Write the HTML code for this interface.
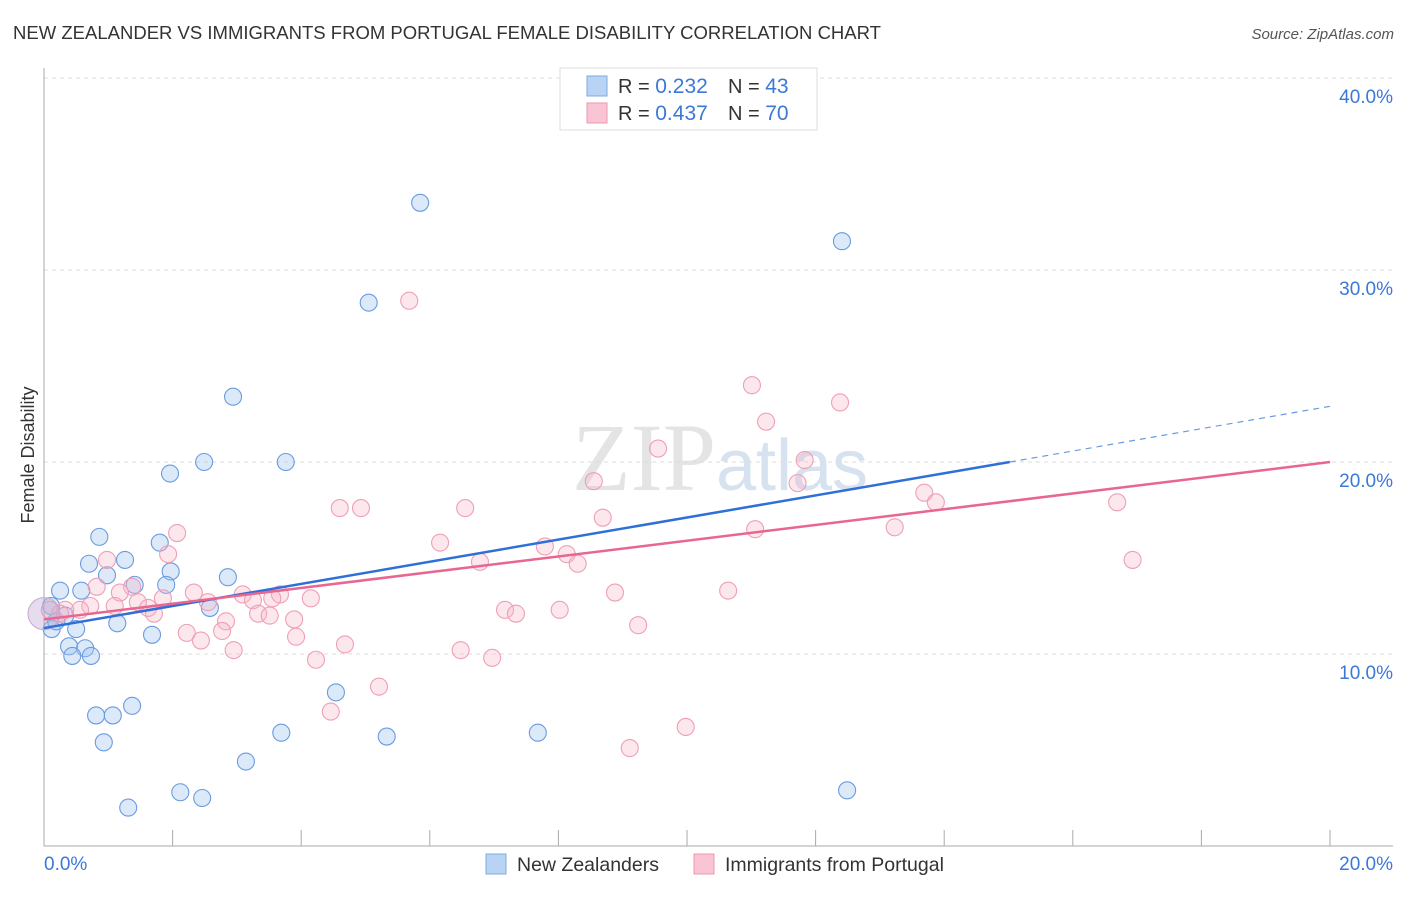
<!DOCTYPE html>
<html><head><meta charset="utf-8">
<style>
body{margin:0;background:#fff;font-family:"Liberation Sans",sans-serif;}
svg text{font-family:"Liberation Sans",sans-serif;}
</style></head>
<body>
<svg id="chart" width="1406" height="892" xmlns="http://www.w3.org/2000/svg">
<text x="13" y="39" font-size="18" fill="#333" textLength="868" lengthAdjust="spacingAndGlyphs">NEW ZEALANDER VS IMMIGRANTS FROM PORTUGAL FEMALE DISABILITY CORRELATION CHART</text>
<text x="1394" y="39" font-size="15" fill="#555" font-style="italic" text-anchor="end">Source: ZipAtlas.com</text>
<text x="720" y="490" font-size="96" fill="#e4e4e4" text-anchor="middle" font-family="Liberation Serif"><tspan font-family="Liberation Serif">ZIP</tspan><tspan fill="#d6e2f0" font-size="72" font-family="Liberation Sans">atlas</tspan></text>
<g id="grid"></g>
<g id="axes"></g>
<g id="marks"></g>
<text transform="translate(34,455) rotate(-90)" font-size="18" fill="#333" text-anchor="middle">Female Disability</text>
<g>
<rect x="560" y="68" width="257" height="62" fill="#fff" stroke="#ddd"/>
<rect x="587" y="76" width="20" height="20" fill="#b9d3f5" stroke="#7fa8e0"/>
<rect x="587" y="103" width="20" height="20" fill="#f9c5d4" stroke="#ee97b0"/>
<text x="618" y="93" font-size="20" fill="#333">R = <tspan fill="#3b78d8" font-size="21">0.232</tspan></text>
<text x="728" y="93" font-size="20" fill="#333">N = <tspan fill="#3b78d8" font-size="21">43</tspan></text>
<text x="618" y="120" font-size="20" fill="#333">R = <tspan fill="#3b78d8" font-size="21">0.437</tspan></text>
<text x="728" y="120" font-size="20" fill="#333">N = <tspan fill="#3b78d8" font-size="21">70</tspan></text>
</g>
<g>
<rect x="486" y="854" width="20" height="20" fill="#b9d3f5" stroke="#7fa8e0"/>
<text x="517" y="871" font-size="19.5" fill="#333">New Zealanders</text>
<rect x="694" y="854" width="20" height="20" fill="#f9c5d4" stroke="#ee97b0"/>
<text x="725" y="871" font-size="19.5" fill="#333">Immigrants from Portugal</text>
</g>
</svg>
<script>
const yTicks=[10,20,30,40];
const yTickLabels=["10.0%","20.0%","30.0%","40.0%"];
const xTickLabels=["0.0%","20.0%"];
const blueX=[5.85,12.41,5.05,2.94,1.96,2.49,3.76,0.86,0.70,1.26,1.80,1.97,0.98,1.41,1.90,2.86,0.25,0.58,0.11,0.33,0.50,1.14,2.58,1.68,0.39,0.64,0.44,0.73,0.12,0.19,4.54,0.81,1.07,1.37,0.93,3.14,3.69,5.33,7.68,1.31,2.12,2.46,12.49];
const blueY=[33.5,31.5,28.3,23.4,19.4,20.0,20.0,16.1,14.7,14.9,15.8,14.3,14.1,13.6,13.6,14.0,13.3,13.3,12.5,12.0,11.3,11.6,12.4,11.0,10.4,10.3,9.9,9.9,11.3,11.7,8.0,6.8,6.8,7.3,5.4,4.4,5.9,5.7,5.9,2.0,2.8,2.5,2.9];
const pinkX=[5.68,11.01,12.38,11.23,9.55,11.83,11.72,8.55,13.69,13.87,16.69,4.60,4.93,6.55,8.69,2.07,11.06,13.23,6.16,7.79,8.13,6.78,8.30,16.93,1.93,0.98,0.82,1.37,1.18,2.33,1.85,3.09,3.67,3.55,4.15,3.25,1.46,1.10,0.72,0.56,1.62,2.55,0.33,0.25,1.71,2.83,3.33,3.51,3.89,7.17,7.34,8.02,8.88,10.64,2.22,2.77,2.44,3.92,4.68,2.95,4.23,6.48,6.97,9.24,5.21,4.46,9.98,9.11,0.09];
const pinkY=[28.4,24.0,23.1,22.1,20.7,20.1,18.9,19.0,18.4,17.9,17.9,17.6,17.6,17.6,17.1,16.3,16.5,16.6,15.8,15.6,15.2,14.8,14.7,14.9,15.2,14.9,13.5,13.5,13.2,13.2,12.9,13.1,13.1,12.9,12.9,12.8,12.7,12.5,12.5,12.3,12.4,12.7,12.3,12.1,12.1,11.7,12.1,12.0,11.8,12.3,12.1,12.3,13.2,13.3,11.1,11.2,10.7,10.9,10.5,10.2,9.7,10.2,9.8,11.5,8.3,7.0,6.2,5.1,12.3];
const blueLine={x1:0,y1:11.35,x2:15.02,y2:20.0,x3:20,y3:22.9};
const pinkLine={x1:0,y1:11.8,x2:20,y2:20.0};
const NS="http://www.w3.org/2000/svg";
const X=v=>44+v*64.3, Y=v=>846-v*19.2;
function mk(t,a,p){const e=document.createElementNS(NS,t);for(const k in a)e.setAttribute(k,a[k]);p.appendChild(e);return e;}
const grid=document.getElementById('grid'),axes=document.getElementById('axes'),marks=document.getElementById('marks');
yTicks.forEach((v,i)=>{
 const l=mk('line',{x1:44,x2:1393,y1:Y(v),y2:Y(v),stroke:'#ddd','stroke-dasharray':'4,4'},grid);
 
 
 const t=mk('text',{x:1393,y:Y(v)+25,'font-size':19,fill:'#3b78d8','text-anchor':'end'},axes);
 t.textContent=yTickLabels[i];
 
 
});
mk('line',{x1:44,x2:44,y1:68,y2:846,stroke:'#aaa'},axes);
mk('line',{x1:44,x2:1393,y1:846,y2:846,stroke:'#aaa'},axes);
for(let i=0;i<=10;i++){const tk=mk('line',{x1:X(i*2),x2:X(i*2),y1:830,y2:846,stroke:'#aaa'},axes);
 
 }
[[0,'start',44],[20,'end',1393]].forEach((d,i)=>{const t=mk('text',{x:d[2],y:870,'font-size':19,fill:'#3b78d8','text-anchor':d[1]},axes);t.textContent=xTickLabels[i];
 
 });
blueX.forEach((v,i)=>{const c=mk('circle',{cx:X(v),cy:Y(blueY[i]),r:8.5,fill:'rgba(160,196,240,0.38)',stroke:'#6a9be0','stroke-width':1.1},marks);
 
 });
pinkX.forEach((v,i)=>{const c=mk('circle',{cx:X(v),cy:Y(pinkY[i]),r:8.5,fill:'rgba(246,180,200,0.32)',stroke:'#ef9fb6','stroke-width':1.1},marks);
 
 });
const big=mk('circle',{cx:X(0),cy:Y(12.1),r:16,fill:'rgba(190,170,210,0.4)',stroke:'#c7a8d0'},marks);


const bl=mk('line',{x1:X(blueLine.x1),y1:Y(blueLine.y1),x2:X(blueLine.x2),y2:Y(blueLine.y2),stroke:'#2f6fd8','stroke-width':2.5},marks);


const bd=mk('line',{x1:X(blueLine.x2),y1:Y(blueLine.y2),x2:X(blueLine.x3),y2:Y(blueLine.y3),stroke:'#6a9be0','stroke-width':1.2,'stroke-dasharray':'6,5'},marks);


const pl=mk('line',{x1:X(pinkLine.x1),y1:Y(pinkLine.y1),x2:X(pinkLine.x2),y2:Y(pinkLine.y2),stroke:'#e8668f','stroke-width':2.5},marks);


</script>
</body></html>
